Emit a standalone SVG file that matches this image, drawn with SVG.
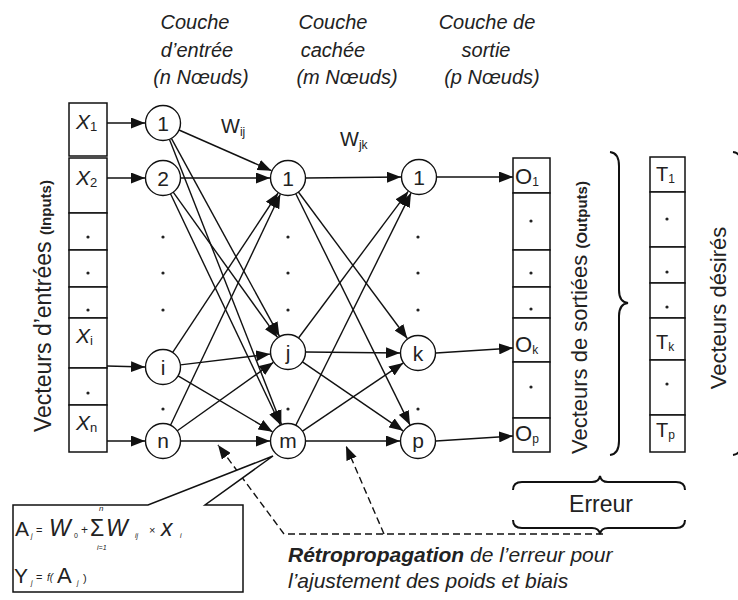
<svg xmlns="http://www.w3.org/2000/svg" width="738" height="600" viewBox="0 0 738 600">
<style>
.ln{stroke:#111;stroke-width:1.4;fill:none}
.ar{marker-end:url(#ah)}
.dash{stroke:#111;stroke-width:1.4;fill:none;stroke-dasharray:7 4}
.brace{stroke:#111;stroke-width:2;fill:none}
.nd{fill:#fff;stroke:#111;stroke-width:1.4}
.cell{fill:#fff;stroke:#111;stroke-width:1.5}
.nl{font-family:'Liberation Sans',Arial,sans-serif;font-size:21px;text-anchor:middle;fill:#222}
.t{font-family:'Liberation Sans',Arial,sans-serif;fill:#222}
.it{font-style:italic}
.dot{fill:#222}
</style>
<defs>
<marker id="ah" markerUnits="userSpaceOnUse" markerWidth="15" markerHeight="11" refX="14" refY="5.5" orient="auto">
<path d="M0,0 L14,5.5 L0,11 Z" fill="#111"/>
</marker>
</defs>
<rect width="738" height="600" fill="#fff"/>

<!-- headers -->
<g id="headers" class="t it" font-size="20" text-anchor="middle">
<text x="195" y="29">Couche</text>
<text x="197" y="57">d’entrée</text>
<text x="201" y="84">(n Nœuds)</text>
<text x="333" y="29">Couche</text>
<text x="333" y="57">cachée</text>
<text x="347" y="84">(m Nœuds)</text>
<text x="487" y="29">Couche de</text>
<text x="486" y="57">sortie</text>
<text x="492" y="84">(p Nœuds)</text>
</g>

<!-- weight labels -->
<g id="weights" class="t" font-size="20">
<text x="221" y="133">W<tspan font-size="12" dy="3">ij</tspan></text>
<text x="340" y="146">W<tspan font-size="12" dy="3">jk</tspan></text>
</g>

<!-- input vector -->
<g id="input-vector">
<rect class="cell" x="69" y="103" width="38" height="53"/>
<rect class="cell" x="69" y="158" width="38" height="55"/>
<rect class="cell" x="69" y="213" width="38" height="37"/>
<rect class="cell" x="69" y="250" width="38" height="37"/>
<rect class="cell" x="69" y="287" width="38" height="31"/>
<rect class="cell" x="69" y="318" width="38" height="50"/>
<rect class="cell" x="69" y="368" width="38" height="37"/>
<rect class="cell" x="69" y="405" width="38" height="47"/>
<g class="t it" font-size="21">
<text x="76" y="129">X<tspan font-size="13" font-style="normal" dy="2">1</tspan></text>
<text x="76" y="185">X<tspan font-size="13" font-style="normal" dy="2">2</tspan></text>
<text x="76" y="343">X<tspan font-size="13" font-style="normal" dy="2">i</tspan></text>
<text x="76" y="430">X<tspan font-size="13" font-style="normal" dy="2">n</tspan></text>
</g>
<circle class="dot" cx="88" cy="237" r="1.6"/>
<circle class="dot" cx="88" cy="273" r="1.6"/>
<circle class="dot" cx="88" cy="310" r="1.6"/>
<circle class="dot" cx="88" cy="393" r="1.6"/>
</g>
<text class="t" font-size="23" transform="translate(51,432) rotate(-90)">Vecteurs d’entrées <tspan font-size="15" font-weight="bold">(Inputs)</tspan></text>

<!-- output vector -->
<g id="output-vector">
<rect class="cell" x="513" y="158" width="37" height="35"/>
<rect class="cell" x="513" y="193" width="37" height="57"/>
<rect class="cell" x="513" y="250" width="37" height="37"/>
<rect class="cell" x="513" y="287" width="37" height="31"/>
<rect class="cell" x="513" y="318" width="37" height="44"/>
<rect class="cell" x="513" y="362" width="37" height="56"/>
<rect class="cell" x="513" y="418" width="37" height="34"/>
<g class="t" font-size="22">
<text x="515" y="184">O<tspan font-size="12" dy="2">1</tspan></text>
<text x="515" y="352">O<tspan font-size="12" dy="2">k</tspan></text>
<text x="515" y="441">O<tspan font-size="12" dy="2">p</tspan></text>
</g>
<circle class="dot" cx="531" cy="221" r="1.6"/>
<circle class="dot" cx="531" cy="273" r="1.6"/>
<circle class="dot" cx="531" cy="309" r="1.6"/>
<circle class="dot" cx="531" cy="387" r="1.6"/>
</g>
<text class="t" font-size="22" transform="translate(587,454) rotate(-90)">Vecteurs de sortiées <tspan font-size="15" font-weight="bold">(Outputs)</tspan></text>

<!-- desired vector -->
<g id="desired-vector">
<rect class="cell" x="650" y="157" width="35" height="35"/>
<rect class="cell" x="650" y="192" width="35" height="55"/>
<rect class="cell" x="650" y="247" width="35" height="36"/>
<rect class="cell" x="650" y="283" width="35" height="35"/>
<rect class="cell" x="650" y="318" width="35" height="42"/>
<rect class="cell" x="650" y="360" width="35" height="55"/>
<rect class="cell" x="650" y="415" width="35" height="37"/>
<g class="t" font-size="20">
<text x="656" y="181">T<tspan font-size="12" dy="2">1</tspan></text>
<text x="656" y="349">T<tspan font-size="12" dy="2">k</tspan></text>
<text x="656" y="437">T<tspan font-size="12" dy="2">p</tspan></text>
</g>
<circle class="dot" cx="667" cy="219" r="1.6"/>
<circle class="dot" cx="667" cy="272" r="1.6"/>
<circle class="dot" cx="667" cy="307" r="1.6"/>
<circle class="dot" cx="667" cy="384" r="1.6"/>
</g>
<text class="t" font-size="22" text-anchor="middle" transform="translate(726,308) rotate(-90)">Vecteurs désirés</text>

<!-- braces -->
<g id="braces">
<path class="brace" d="M610,152 Q619,153 619,166 L619,290 Q619,302 628,303 Q619,304 619,316 L619,441 Q619,454 610,455"/>
<path class="brace" d="M733,152 Q742,153 742,166 L742,441 Q742,454 733,455"/>
<path class="brace" d="M513,490 Q513,482 522,482 L592,482 Q599,482 600,476 Q601,482 608,482 L676,482 Q685,482 685,490"/>
<path class="brace" d="M513,520 Q513,528 522,528 L592,528 Q599,528 600,534 Q601,528 608,528 L676,528 Q685,528 685,520"/>
<text class="t" font-size="23" text-anchor="middle" x="601" y="512">Erreur</text>
</g>

<!-- connectors -->
<g id="connectors">
<line class="ln ar" x1="107" y1="123" x2="145" y2="123"/>
<line class="ln ar" x1="107" y1="178" x2="145" y2="178"/>
<line class="ln ar" x1="107" y1="366" x2="145" y2="367"/>
<line class="ln ar" x1="107" y1="441" x2="145" y2="441"/>

<line class="ln ar" x1="179" y1="130" x2="271.5" y2="170.7"/>
<line class="ln ar" x1="171.4" y1="138.4" x2="279.4" y2="336.2"/>
<line class="ln ar" x1="169.4" y1="139.3" x2="281.4" y2="424.2"/>
<line class="ln ar" x1="181" y1="178" x2="270" y2="178"/>
<line class="ln ar" x1="173.2" y1="192.2" x2="277.5" y2="337.4"/>
<line class="ln ar" x1="170.5" y1="193.8" x2="280.3" y2="424.7"/>
<line class="ln ar" x1="172.7" y1="352.4" x2="278.1" y2="193"/>
<line class="ln ar" x1="180.4" y1="364.9" x2="270.1" y2="354.1"/>
<line class="ln ar" x1="178.1" y1="375.9" x2="272.5" y2="431.8"/>
<line class="ln ar" x1="170.5" y1="425.2" x2="280.3" y2="194.3"/>
<line class="ln ar" x1="177.3" y1="430.8" x2="273.3" y2="362.4"/>
<line class="ln ar" x1="181" y1="441" x2="270" y2="441"/>

<line class="ln ar" x1="306" y1="178" x2="401" y2="177"/>
<line class="ln ar" x1="298.4" y1="192" x2="407.3" y2="338.5"/>
<line class="ln ar" x1="295.8" y1="193.7" x2="410" y2="424.9"/>
<line class="ln ar" x1="298.5" y1="338" x2="408.2" y2="191.4"/>
<line class="ln ar" x1="306" y1="352" x2="400" y2="353"/>
<line class="ln ar" x1="302.4" y1="361.9" x2="403.1" y2="430.8"/>
<line class="ln ar" x1="295.8" y1="425.3" x2="411" y2="193.1"/>
<line class="ln ar" x1="302.5" y1="431.2" x2="403.1" y2="363.1"/>
<line class="ln ar" x1="306" y1="441" x2="400" y2="441"/>

<line class="ln ar" x1="437" y1="177" x2="513" y2="177"/>
<line class="ln ar" x1="436" y1="353" x2="513" y2="348"/>
<line class="ln ar" x1="436" y1="441" x2="513" y2="436"/>

<path class="dash" d="M603,534 L284,534"/>
<path class="dash ar" d="M284,534 L218,445"/>
<path class="dash ar" d="M384,534 L346,446"/>
</g>

<!-- nodes -->
<g id="node-in-1"><circle class="nd" cx="163" cy="123" r="17.5"/><text class="nl" x="163" y="131">1</text></g>
<g id="node-in-2"><circle class="nd" cx="163" cy="178" r="17.5"/><text class="nl" x="163" y="186">2</text></g>
<g id="node-in-i"><circle class="nd" cx="163" cy="367" r="17.5"/><text class="nl" x="163" y="375">i</text></g>
<g id="node-in-n"><circle class="nd" cx="163" cy="441" r="17.5"/><text class="nl" x="163" y="448">n</text></g>
<g id="node-hid-1"><circle class="nd" cx="288" cy="178" r="17.5"/><text class="nl" x="288" y="186">1</text></g>
<g id="node-hid-j"><circle class="nd" cx="288" cy="352" r="17.5"/><text class="nl" x="288" y="360">j</text></g>
<g id="node-hid-m"><circle class="nd" cx="288" cy="441" r="17.5"/><text class="nl" x="288" y="448">m</text></g>
<g id="node-out-1"><circle class="nd" cx="419" cy="177" r="17.5"/><text class="nl" x="419" y="185">1</text></g>
<g id="node-out-k"><circle class="nd" cx="418" cy="353" r="17.5"/><text class="nl" x="418" y="361">k</text></g>
<g id="node-out-p"><circle class="nd" cx="418" cy="441" r="17.5"/><text class="nl" x="418" y="448">p</text></g>

<g id="layer-dots">
<circle class="dot" cx="163" cy="237" r="1.6"/><circle class="dot" cx="163" cy="273" r="1.6"/><circle class="dot" cx="163" cy="310" r="1.6"/><circle class="dot" cx="163" cy="409" r="1.6"/>
<circle class="dot" cx="288" cy="237" r="1.6"/><circle class="dot" cx="288" cy="273" r="1.6"/><circle class="dot" cx="288" cy="310" r="1.6"/><circle class="dot" cx="288" cy="409" r="1.6"/>
<circle class="dot" cx="418" cy="237" r="1.6"/><circle class="dot" cx="418" cy="273" r="1.6"/><circle class="dot" cx="418" cy="310" r="1.6"/><circle class="dot" cx="418" cy="409" r="1.6"/>
</g>

<!-- formula callout -->
<g id="formula">
<path class="cell" d="M13,505 L148,505 L273,456 L205,505 L243,505 L243,592 L13,592 Z"/>
<g class="t">
<text x="15" y="536" font-size="21">A</text>
<text x="31" y="538" font-size="7" font-style="italic">j</text>
<text x="36" y="534" font-size="11">=</text>
<text x="49" y="536" font-size="23" font-style="italic">W</text>
<text x="74" y="538" font-size="7">0</text>
<text x="81" y="534" font-size="12">+</text>
<text x="90" y="536" font-size="23">Σ</text>
<text x="99" y="511" font-size="8" font-style="italic">n</text>
<text x="97" y="550" font-size="7" font-style="italic">i=1</text>
<text x="106" y="536" font-size="23" font-style="italic">W</text>
<text x="135" y="538" font-size="7" font-style="italic">ij</text>
<text x="149" y="534" font-size="11">×</text>
<text x="161" y="536" font-size="23" font-style="italic">x</text>
<text x="180" y="538" font-size="7" font-style="italic">i</text>
<text x="14" y="583" font-size="21">Y</text>
<text x="31" y="585" font-size="7" font-style="italic">j</text>
<text x="36" y="581" font-size="11">=</text>
<text x="47" y="581" font-size="10" font-style="italic">f(</text>
<text x="57" y="583" font-size="22">A</text>
<text x="77" y="585" font-size="7" font-style="italic">j</text>
<text x="83" y="582" font-size="11">)</text>
</g>
</g>

<!-- backpropagation text -->
<g id="backprop-label" class="t it" font-size="21">
<text x="288" y="562"><tspan font-weight="bold">Rétropropagation</tspan> de l’erreur pour</text>
<text x="288" y="588">l’ajustement des poids et biais</text>
</g>
</svg>
